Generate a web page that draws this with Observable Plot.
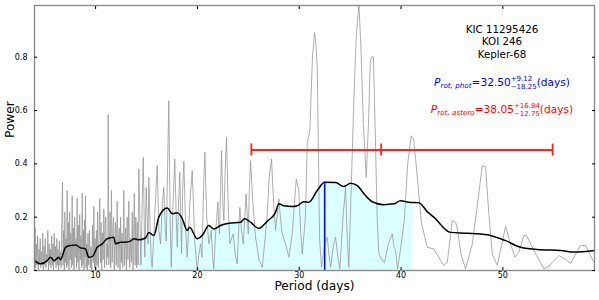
<!DOCTYPE html>
<html><head><meta charset="utf-8">
<script src="https://cdn.jsdelivr.net/npm/d3@7"></script>
<script src="https://cdn.jsdelivr.net/npm/@observablehq/plot@0.6"></script>
<style>body{margin:0;background:#fff;} svg{display:block}</style>
</head><body><div id="chart"></div>
<script>
// ---- data ----
const xTicks = [10, 20, 30, 40, 50];
const yTicks = [0, 0.2, 0.4, 0.6, 0.8];
const xDomain = [4, 59];
const yDomain = [0, 0.994];
const titleLines = ["KIC 11295426", "KOI 246", "Kepler-68"];
const pPhot = 32.50, pPhotErrPlus = 9.12, pPhotErrMinus = 18.25;
const pAstero = 38.05, pAsteroErrPlus = 16.84, pAsteroErrMinus = 12.75;
const errorbarPower = 0.452;
const fillRange = [14.15, 41.15];

// periodogram (grey) [period, power]
const grayCurve = [
[4.00,0.05],[4.06,0.16],[4.12,0.01],[4.19,0.10],[4.25,0.02],[4.31,0.13],[4.37,0.0],[4.44,0.08],[4.50,0.03],[4.56,0.12],[4.62,0.01],[4.69,0.07],[4.75,0.02],[4.81,0.14],[4.87,0.0],[4.94,0.09],[5.00,0.02],[5.06,0.12],[5.12,0.01],[5.19,0.06],[5.25,0.03],[5.31,0.15],[5.37,0.0],[5.44,0.10],[5.50,0.02],[5.56,0.08],[5.62,0.01],[5.69,0.13],[5.75,0.02],[5.81,0.10],[5.87,0.0],[5.94,0.14],[6.00,0.03],[6.06,0.09],[6.12,0.01],[6.19,0.12],[6.25,0.02],[6.31,0.08],[6.37,0.0],[6.44,0.11],[6.50,0.02],[6.56,0.07],
[6.62,0.01],[6.68,0.20],[6.75,0.33],[6.81,0.02],[6.87,0.15],[6.93,0.0],[6.98,0.22],[7.04,0.03],[7.10,0.12],[7.15,0.01],[7.21,0.30],[7.27,0.02],[7.33,0.18],[7.39,0.0],[7.45,0.22],[7.51,0.04],[7.57,0.14],[7.63,0.01],[7.70,0.28],[7.76,0.02],[7.82,0.16],[7.88,0.0],[7.94,0.20],[8.00,0.05],[8.07,0.12],[8.13,0.01],[8.19,0.27],[8.25,0.03],[8.31,0.17],[8.37,0.0],[8.44,0.21],[8.50,0.04],[8.57,0.13],[8.63,0.01],[8.69,0.29],[8.75,0.02],[8.81,0.15],[8.87,0.0],[8.93,0.19],[8.97,0.05],[9.01,0.28],[9.07,0.01],[9.13,0.10],[9.19,0.0],[9.25,0.14],[9.32,0.02],[9.40,0.15],[9.47,0.01],[9.55,0.09],[9.62,0.0],[9.70,0.17],[9.77,0.03],[9.83,0.24],[9.89,0.01],[9.95,0.12],
[10.02,0.0],[10.08,0.15],[10.14,0.02],[10.20,0.22],[10.27,0.01],[10.34,0.12],[10.41,0.27],[10.48,0.03],[10.54,0.18],[10.60,0.0],[10.67,0.14],[10.74,0.04],[10.81,0.23],[10.88,0.01],[10.94,0.16],[11.00,0.20],[11.07,0.02],[11.14,0.10],[11.19,0.05],[11.24,0.584],[11.30,0.02],[11.36,0.12],[11.42,0.22],[11.48,0.01],[11.56,0.30],[11.63,0.03],[11.70,0.15],[11.76,0.20],[11.83,0.0],[11.90,0.12],[11.95,0.18],[12.02,0.02],[12.12,0.26],[12.20,0.01],[12.27,0.14],[12.33,0.16],[12.40,0.0],[12.45,0.20],[12.53,0.03],[12.60,0.14],[12.68,0.01],[12.77,0.30],[12.85,0.02],[12.95,0.16],[13.03,0.0],[13.10,0.20],[13.18,0.04],[13.26,0.26],[13.35,0.01],[13.45,0.12],[13.52,0.03],[13.60,0.22],[13.68,0.0],[13.80,0.29],[13.88,0.02],[13.95,0.20],[14.03,0.01],[14.10,0.18],[14.17,0.02],[14.25,0.381],[14.45,0.02],
[14.68,0.424],[14.83,0.05],[14.97,0.312],[15.15,0.10],[15.23,0.349],[15.33,0.20],[15.45,0.05],[15.56,0.012],[15.80,0.20],[16.05,0.393],[16.22,0.15],[16.38,0.10],[16.55,0.25],[16.70,0.312],[16.85,0.15],[16.94,0.11],[17.19,0.637],[17.32,0.20],[17.43,0.012],[17.60,0.25],[17.78,0.418],[17.92,0.20],[18.02,0.087],[18.15,0.25],[18.27,0.368],[18.36,0.20],[18.44,0.064],[18.55,0.30],[18.67,0.41],[18.85,0.15],[19.00,0.050],[19.25,0.25],[19.49,0.375],[19.75,0.10],[19.98,0.0],[20.15,0.06],[20.31,0.10],[20.45,0.05],[20.60,0.30],[20.73,0.443],[20.92,0.20],[21.12,0.10],[21.24,0.12],[21.36,0.15],[21.50,0.05],[21.61,0.006],[21.80,0.15],[22.01,0.256],[22.10,0.17],[22.17,0.139],[22.27,0.30],[22.37,0.449],[22.50,0.25],[22.60,0.187],[22.73,0.38],[22.86,0.499],[23.02,0.25],[23.19,0.10],[23.35,0.12],[23.52,0.137],[23.72,0.06],[23.91,0.025],[24.05,0.15],[24.17,0.237],[24.33,0.15],[24.50,0.10],[24.66,0.20],[24.78,0.287],[24.99,0.137],[25.10,0.30],[25.22,0.412],[25.45,0.25],[25.71,0.125],[26.05,0.04],[26.37,0.012],[26.60,0.10],[26.86,0.212],[27.05,0.35],[27.28,0.418],[27.45,0.28],[27.67,0.150],[28.00,0.268],[28.15,0.20],[28.33,0.137],[28.66,0.10],[28.98,0.050],[29.31,0.137],[29.71,0.343],[29.96,0.30],[30.14,0.15],[30.30,0.062],[30.50,0.15],[30.62,0.212],[30.79,0.48],[31.04,0.524],[31.30,0.80],[31.50,0.892],[31.64,0.85],[31.77,0.761],[31.90,0.40],[32.00,0.119],[32.19,0.012],[32.50,0.10],[32.75,0.125],[32.92,0.06],[33.08,0.012],[33.35,0.09],[33.57,0.125],[33.80,0.05],[33.99,0.006],[34.30,0.20],[34.55,0.312],[34.72,0.12],[34.87,0.012],[35.10,0.30],[35.35,0.62],[35.60,0.88],[35.86,0.994],[36.05,0.85],[36.30,0.55],[36.58,0.349],[36.80,0.55],[36.98,0.78],[37.10,0.801],[37.29,0.801],[37.45,0.55],[37.65,0.20],[37.82,0.064],[38.10,0.04],[38.38,0.03],[38.75,0.10],[39.14,0.137],[39.30,0.09],[39.46,0.075],[39.66,0.006],[39.95,0.08],[40.32,0.187],[40.65,0.40],[41.00,0.505],[41.25,0.49],[41.60,0.35],[42.00,0.18],[42.57,0.087],[43.22,0.081],[43.70,0.05],[44.20,0.019],[44.54,0.03],[45.03,0.187],[45.36,0.181],[45.53,0.156],[45.90,0.06],[46.34,0.006],[47.00,0.10],[47.42,0.225],[47.98,0.393],[48.30,0.389],[48.60,0.225],[48.96,0.062],[49.45,0.019],[50.27,0.165],[50.66,0.112],[51.18,0.050],[51.57,0.069],[52.06,0.131],[52.33,0.131],[53.05,0.075],[54.03,0.006],[54.39,0.012],[55.50,0.056],[56.06,0.045],[56.65,0.027],[57.63,0.094],[58.12,0.094],[58.94,0.031],[59.00,0.035]
];

// smoothed periodogram (black) [period, power]
const smoothCurve = [
[4.00,0.037],[4.59,0.025],[5.25,0.037],[5.57,0.050],[5.90,0.037],[6.39,0.050],[6.55,0.040],[7.05,0.087],[7.54,0.094],[8.03,0.096],[8.52,0.085],[9.01,0.081],[9.33,0.050],[9.67,0.052],[10.16,0.087],[10.65,0.100],[11.14,0.119],[11.79,0.125],[11.96,0.100],[12.45,0.106],[12.94,0.106],[13.43,0.110],[13.75,0.119],[14.25,0.115],[14.90,0.122],[15.23,0.143],[15.72,0.131],[16.21,0.200],[17.04,0.234],[17.53,0.213],[18.02,0.217],[18.51,0.195],[19.00,0.150],[19.23,0.162],[19.98,0.119],[20.47,0.131],[21.12,0.169],[21.61,0.156],[22.27,0.169],[23.09,0.177],[24.24,0.181],[24.63,0.194],[25.22,0.181],[26.03,0.158],[26.86,0.185],[27.67,0.218],[28.00,0.250],[28.49,0.243],[29.31,0.240],[29.81,0.243],[30.45,0.258],[30.94,0.256],[31.77,0.300],[32.49,0.331],[33.57,0.330],[34.38,0.315],[35.04,0.327],[35.70,0.318],[36.51,0.281],[37.17,0.258],[38.31,0.247],[39.29,0.250],[39.95,0.262],[40.77,0.256],[41.75,0.254],[42.57,0.221],[43.22,0.200],[44.86,0.143],[46.50,0.140],[48.47,0.134],[49.78,0.119],[50.27,0.112],[51.74,0.087],[53.70,0.078],[55.67,0.075],[56.98,0.069],[59.00,0.075]
];

// ---- helpers ----
const bis = d3.bisector(d => d[0]).left;
function smoothAt(p) {
  const i = Math.max(1, Math.min(smoothCurve.length - 1, bis(smoothCurve, p)));
  const a = smoothCurve[i - 1], b = smoothCurve[i];
  const t = (p - a[0]) / (b[0] - a[0]);
  return a[1] + t * (b[1] - a[1]);
}
const fillData = [[fillRange[0], smoothAt(fillRange[0])],
  ...smoothCurve.filter(d => d[0] > fillRange[0] && d[0] < fillRange[1]),
  [fillRange[1], smoothAt(fillRange[1])]];
const astLo = pAstero - pAsteroErrMinus, astHi = pAstero + pAsteroErrPlus;
const capHalf = 0.0225;
const blankFmt = () => "";

const plot = Plot.plot({
  width: 599, height: 300,
  marginLeft: 34, marginRight: 5, marginTop: 5, marginBottom: 30,
  style: {fontFamily: "DejaVu Sans", fontSize: "8px", color: "black", background: "white"},
  x: {domain: xDomain},
  y: {domain: yDomain},
  marks: [
    Plot.areaY(fillData, {x: d => d[0], y: d => d[1], fill: "#dcffff"}),
    Plot.line(grayCurve, {x: d => d[0], y: d => d[1], stroke: "#939393", strokeWidth: 0.75}),
    Plot.line(smoothCurve, {x: d => d[0], y: d => d[1], stroke: "black", strokeWidth: 1.5, curve: "monotone-x"}),
    Plot.ruleX([pPhot], {y1: 0, y2: () => smoothAt(pPhot), stroke: "#0000ff", strokeWidth: 1.5}),
    Plot.ruleY([errorbarPower], {x1: () => astLo, x2: () => astHi, y: d => d, stroke: "#ff2020", strokeWidth: 1.8}),
    Plot.ruleX([astLo, pAstero, astHi], {x: d => d, y1: () => errorbarPower - capHalf, y2: () => errorbarPower + capHalf, stroke: "#ff2020", strokeWidth: 1.8}),
    Plot.frame({stroke: "#8c8c8c", strokeWidth: 1.4}),
    Plot.axisX(xTicks, {tickSize: 0, tickPadding: 2, label: null}),
    Plot.axisX(xTicks, {tickSize: -3, tickFormat: blankFmt, label: null}),
    Plot.axisX(xTicks, {anchor: "top", tickSize: -3, tickFormat: blankFmt, label: null}),
    Plot.axisY(yTicks, {tickSize: 0, tickPadding: 7, tickFormat: ".1f", label: null}),
    Plot.axisY(yTicks, {tickSize: -3, tickFormat: blankFmt, label: null}),
    Plot.axisY(yTicks, {anchor: "right", tickSize: -3, tickFormat: blankFmt, label: null}),
    Plot.text(["Period (days)"], {frameAnchor: "bottom", dy: 19.6, fontSize: 12.2, text: d => d}),
    Plot.text(["Power"], {frameAnchor: "left", dx: -24, rotate: -90, fontSize: 12.2, text: d => d})
  ]
});
document.getElementById("chart").appendChild(plot);

// ---- annotations ----
const svg = d3.select(plot);
const ann = svg.append("g").attr("font-family", "DejaVu Sans").attr("fill", "black");
titleLines.forEach((t, i) => {
  ann.append("text").attr("x", 502).attr("y", 32.7 + i * 12.7)
    .attr("text-anchor", "middle").attr("font-size", 10.3).text(t);
});

function mathLabel(cx, baseline, color, sub, value, sup, subErr) {
  const g = svg.append("g").attr("fill", color).attr("font-family", "DejaVu Sans")
    .attr("text-anchor", "start");
  let x = 0;
  const add = (txt, size, dy, italic) => {
    const t = g.append("text").attr("x", x).attr("y", baseline + dy)
      .attr("text-anchor", "start")
      .attr("font-size", size).attr("font-style", italic ? "italic" : null).text(txt);
    return t.node().getComputedTextLength();
  };
  x += add("P", 10.6, 0, true);
  x += add(sub, 7.2, 2.5, true);
  x += add("=" + value, 10.6, 0, false);
  const w1 = add(sup, 7, -4.5, false);
  const w2 = add(subErr, 7, 3, false);
  x += Math.max(w1, w2);
  x += add("(days)", 10.6, 0, false);
  g.attr("transform", `translate(${cx - x / 2},0)`);
}
mathLabel(502, 85.5, "#0000ff", "rot, phot", pPhot.toFixed(2), "+" + pPhotErrPlus.toFixed(2), "\u2212" + pPhotErrMinus.toFixed(2));
mathLabel(502, 112.5, "#ff0000", "rot, astero", pAstero.toFixed(2), "+" + pAsteroErrPlus.toFixed(2), "\u2212" + pAsteroErrMinus.toFixed(2));
</script></body></html>
